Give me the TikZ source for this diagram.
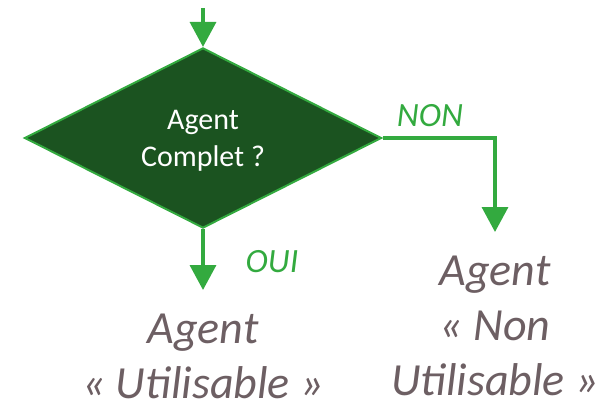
\documentclass[tikz,border=0pt]{standalone}
\usepackage{fontspec}
\setmainfont{Carlito}
\usepackage{xcolor}
\usetikzlibrary{positioning,arrows.meta,shapes.geometric}
\definecolor{flowgreen}{HTML}{33AA3F}
\definecolor{deepgreen}{HTML}{1B5320}
\definecolor{resultgray}{HTML}{6D5F63}

\begin{document}
\begin{tikzpicture}[
  x=1pt, y=-1pt,
  decision/.style={diamond, draw=flowgreen, fill=deepgreen, line width=2pt,
    minimum width=357pt, minimum height=176pt, inner sep=0pt, text=white,
    align=center, text depth=0pt, font=\fontsize{30}{37}\selectfont},
  result/.style={align=center, text=resultgray, inner sep=0pt, outer sep=24pt,
    font=\fontsize{46}{55}\selectfont\itshape},
  answer/.style={text=flowgreen, inner sep=0pt, font=\fontsize{34}{40}\selectfont\itshape},
  arr/.style={-{Triangle[length=25pt,width=26pt]}, line width=3.5pt, draw=flowgreen}
]
  \useasboundingbox (0,0) rectangle (615,406);

  % losange de décision
  \coordinate (entry) at (203,8);
  \node[decision] (complet) at (203,138) {Agent\\Complet ?};

  % résultats
  \node[result, anchor=north] (util) at (203,290) {Agent\\« Utilisable »};
  \node[result, anchor=north] (nonutil) at (495,232) {Agent\\« Non\\Utilisable »};

  % flèches
  \draw[arr] (entry) -- (complet.north);
  \draw[arr] (complet.south) -- (util.north);
  \draw[arr] (complet.east) -| (nonutil.north);

  % réponses
  \node[answer, anchor=base] (non) at (430,127) {NON};
  \node[answer, anchor=base] (oui) at (272,272) {OUI};
\end{tikzpicture}
\end{document}
